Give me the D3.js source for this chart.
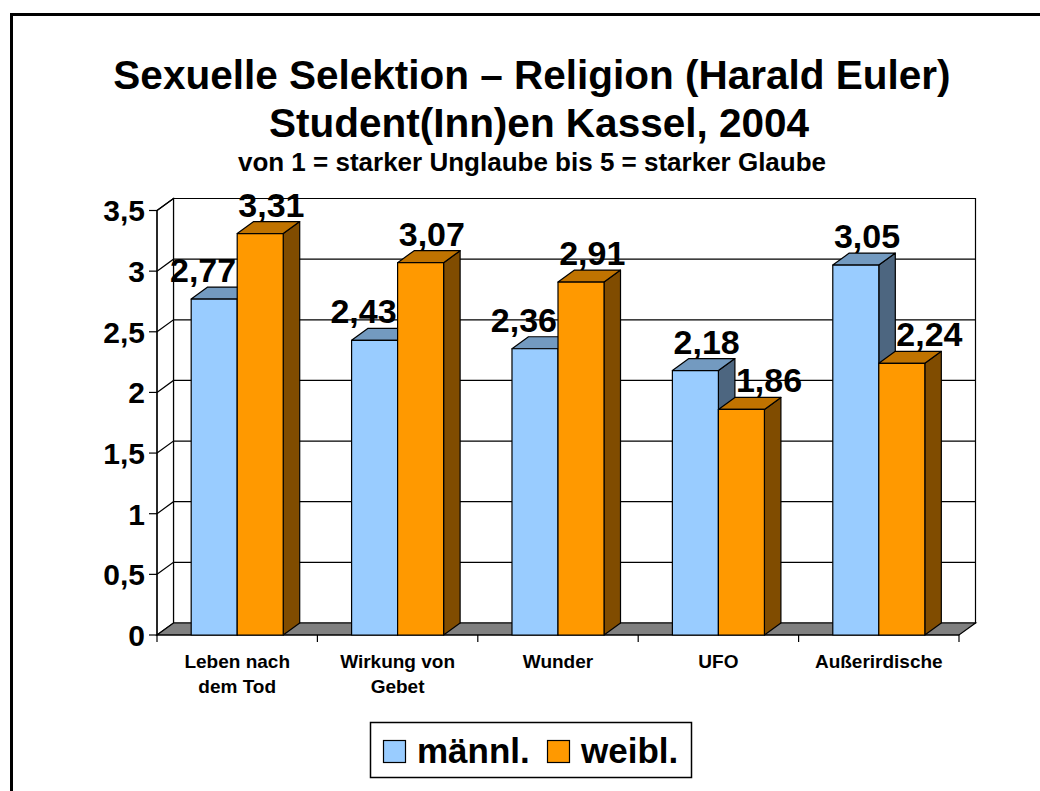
<html>
<head>
    <meta charset="utf-8">
    <style>
        body { margin: 0; background: #fff; }
        text { font-family: Arial, "Liberation Sans", sans-serif; font-weight: bold; fill: #000; }
        .wall { fill: #fff; stroke: #000; stroke-width: 1.2; }
        .floor { fill: #808080; stroke: #000; stroke-width: 1.2; }
        .grid { stroke: #000; stroke-width: 1.2; fill: none; }
        .bar { stroke: #000; stroke-width: 1.2; stroke-linejoin: round; }
    </style>
</head>
<body>
    <script src="https://cdn.jsdelivr.net/npm/d3@7"></script>
    <script>
        var categories = [["Leben nach", "dem Tod"], ["Wirkung von", "Gebet"], ["Wunder"], ["UFO"], ["Außerirdische"]];
        var seriesNames = ["männl.", "weibl."];
        var maennl = [2.77, 2.43, 2.36, 2.18, 3.05];
        var weibl = [3.31, 3.07, 2.91, 1.86, 2.24];
        var yTicks = [0, 0.5, 1, 1.5, 2, 2.5, 3, 3.5];

        var width = 1040, height = 791;
        var plotLeft = 157, plotRight = 959, plotBottom = 635, plotTop = 210.5;
        var dx = 16.5, dy = 12;   // 3d depth offset
        var faces = [
            { front: "#99ccff", top: "#739ac0", side: "#4d6680" },
            { front: "#ff9900", top: "#c07300", side: "#804c00" }
        ];
        var series = [maennl, weibl];
        var fmt = function(v) { return String(v).replace(".", ","); };

        var x = d3.scaleBand().domain(d3.range(categories.length)).range([plotLeft, plotRight]);
        var xs = d3.scaleBand().domain([0, 1]).range([0, x.bandwidth()]).paddingOuter(0.743);
        var y = d3.scaleLinear().domain([0, 3.5]).range([plotBottom, plotTop]);

        var svg = d3.select("body").append("svg")
            .attr("width", width)
            .attr("height", height);

        // outer frame
        svg.append("rect")
            .attr("x", 11.5).attr("y", 14.5)
            .attr("width", 1100).attr("height", 900)
            .attr("fill", "none").attr("stroke", "#000").attr("stroke-width", 3);

        // titles
        svg.append("text").attr("x", 532).attr("y", 89).attr("text-anchor", "middle")
            .style("font-size", "40.5px").text("Sexuelle Selektion – Religion (Harald Euler)");
        svg.append("text").attr("x", 539).attr("y", 137).attr("text-anchor", "middle")
            .style("font-size", "40.5px").text("Student(Inn)en Kassel, 2004");
        svg.append("text").attr("x", 532).attr("y", 171).attr("text-anchor", "middle")
            .style("font-size", "26px").text("von 1 = starker Unglaube bis 5 = starker Glaube");

        var g = svg.append("g");
        var pts = function(a) { return a.map(function(p) { return p.join(","); }).join(" "); };

        // back wall
        g.append("polygon").attr("class", "wall")
            .attr("points", pts([[plotLeft + dx, y(3.5) - dy], [plotRight + dx, y(3.5) - dy], [plotRight + dx, plotBottom - dy], [plotLeft + dx, plotBottom - dy]]));
        // left wall
        g.append("polygon").attr("class", "wall")
            .attr("points", pts([[plotLeft, y(3.5)], [plotLeft + dx, y(3.5) - dy], [plotLeft + dx, plotBottom - dy], [plotLeft, plotBottom]]));

        // gridlines on back wall and left wall
        yTicks.slice(1).forEach(function(t) {
            g.append("polyline").attr("class", "grid")
                .attr("points", pts([[plotLeft, y(t)], [plotLeft + dx, y(t) - dy], [plotRight + dx, y(t) - dy]]));
        });

        // floor
        g.append("polygon").attr("class", "floor")
            .attr("points", pts([[plotLeft, plotBottom], [plotLeft + dx, plotBottom - dy], [plotRight + dx, plotBottom - dy], [plotRight, plotBottom]]));

        // y axis
        g.append("line").attr("class", "grid").attr("x1", plotLeft).attr("x2", plotLeft).attr("y1", y(3.5)).attr("y2", plotBottom);
        yTicks.forEach(function(t) {
            g.append("line").attr("class", "grid").attr("x1", plotLeft - 8).attr("x2", plotLeft).attr("y1", y(t)).attr("y2", y(t));
            g.append("text").attr("x", plotLeft - 12).attr("y", y(t)).attr("dy", "0.36em")
                .attr("text-anchor", "end").style("font-size", "30px").text(fmt(t));
        });

        // x axis
        g.append("line").attr("class", "grid").attr("x1", plotLeft).attr("x2", plotRight).attr("y1", plotBottom).attr("y2", plotBottom);
        d3.range(categories.length + 1).forEach(function(i) {
            var xx = i < categories.length ? x(i) : plotRight;
            g.append("line").attr("class", "grid").attr("x1", xx).attr("x2", xx).attr("y1", plotBottom).attr("y2", plotBottom + 7);
        });
        categories.forEach(function(lines, i) {
            var t = g.append("text").attr("text-anchor", "middle").style("font-size", "19px");
            lines.forEach(function(l, k) {
                t.append("tspan").attr("x", x(i) + x.bandwidth() / 2).attr("y", 668 + k * 25).text(l);
            });
        });

        // bars
        categories.forEach(function(c, i) {
            series.forEach(function(s, j) {
                var x0 = x(i) + xs(j), w = xs.bandwidth(), yt = y(s[i]);
                var bar = g.append("g");
                bar.append("polygon").attr("class", "bar").attr("fill", faces[j].side)
                    .attr("points", pts([[x0 + w, yt], [x0 + w + dx, yt - dy], [x0 + w + dx, plotBottom - dy], [x0 + w, plotBottom]]));
                bar.append("polygon").attr("class", "bar").attr("fill", faces[j].top)
                    .attr("points", pts([[x0, yt], [x0 + dx, yt - dy], [x0 + w + dx, yt - dy], [x0 + w, yt]]));
                bar.append("rect").attr("class", "bar").attr("fill", faces[j].front)
                    .attr("x", x0).attr("y", yt).attr("width", w).attr("height", plotBottom - yt);
            });
        });

        // value labels, pushed off a taller neighbour bar
        categories.forEach(function(c, i) {
            series.forEach(function(s, j) {
                var x0 = x(i) + xs(j), w = xs.bandwidth(), yt = y(s[i]);
                var lab = g.append("text").attr("text-anchor", "middle").style("font-size", "34px")
                    .attr("y", yt - dy - 5).text(fmt(s[i]));
                var lw = lab.node().getComputedTextLength();
                var cx = x0 + w / 2 + dx / 2 + 3;
                var other = series[1 - j][i];
                if (j === 0 && other > s[i] && cx + lw / 2 > x0 + w) cx = x0 + w - lw / 2 - 1;
                if (j === 1 && other > s[i] && cx - lw / 2 < x0 + dx) cx = x0 + dx + lw / 2 + 1;
                lab.attr("x", cx);
            });
        });

        // legend
        var lg = svg.append("g");
        lg.append("rect").attr("x", 370.5).attr("y", 722.5).attr("width", 321).attr("height", 55)
            .attr("fill", "#fff").attr("stroke", "#000").attr("stroke-width", 1.5);
        var lx = [383, 547];
        seriesNames.forEach(function(n, j) {
            lg.append("rect").attr("x", lx[j] + 0.5).attr("y", 740.5).attr("width", 22).attr("height", 22)
                .attr("fill", faces[j].front).attr("stroke", "#000").attr("stroke-width", 1.2);
            lg.append("text").attr("x", lx[j] + 34).attr("y", 763).style("font-size", "35px").text(n);
        });
    </script>
</body>
</html>
